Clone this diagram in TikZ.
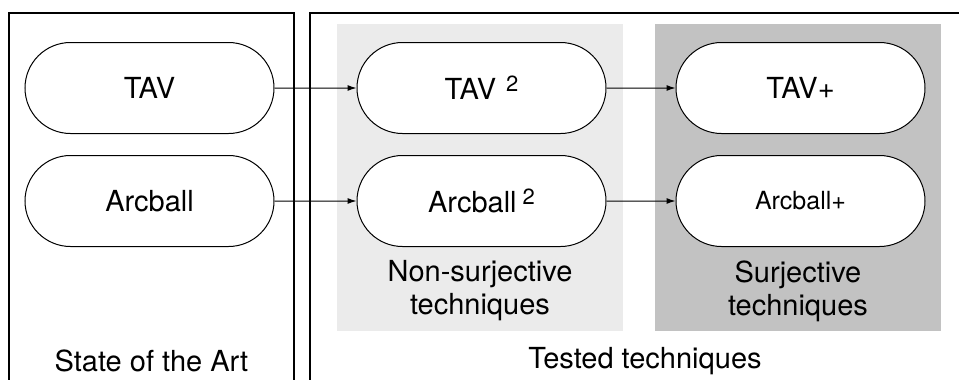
\documentclass[tikz,border=0pt]{standalone}
\usepackage{fontspec}
\setmainfont{TeX Gyre Heros}
\usetikzlibrary{positioning, arrows.meta, shapes.misc}

\definecolor{nonsurjgray}{gray}{0.92}
\definecolor{surjgray}{gray}{0.76}

\newcommand{\sqmark}[1]{\hspace{#1}\raisebox{4pt}{\fontsize{11}{12}\selectfont 2}}

\begin{document}
\begin{tikzpicture}[
    x=0.5pt, y=-0.5pt,
    >={Latex[length=4.5pt, width=3pt]},
    font=\fontsize{14.5}{16.5}\selectfont,
    frame/.style={draw, line width=0.8pt},
    pill/.style={rounded rectangle, draw, line width=0.5pt, fill=white,
        minimum width=124.5pt, minimum height=45.5pt, inner sep=0pt},
    grouplabel/.style={align=center},
    link/.style={->, line width=0.5pt}
]
    \useasboundingbox (0,0) rectangle (959,380);

    % --- OUTER FRAMES (open at the bottom) ---
    \draw[frame] (9,380) -- (9,13) -- (294,13) -- (294,380);
    \draw[frame] (310,380) -- (310,13) -- (959,13);

    % --- SHADED GROUPS ---
    \fill[nonsurjgray] (337,24) rectangle (623,331);
    \fill[surjgray] (655,24) rectangle (941,331);

    % --- TECHNIQUES ---
    \node[pill] (tav) at (149.5,88) {TAV};
    \node[pill, below=10.5pt of tav] (arcball) {Arcball};

    \node[pill, right=41pt of tav] (tav2) {TAV\sqmark{5pt}};
    \node[pill, right=41pt of arcball] (arcball2) {Arcball\sqmark{3pt}};

    \node[pill, right=34.5pt of tav2] (tavplus) {TAV+};
    \node[pill, right=34.5pt of arcball2, font=\fontsize{12.5}{14}\selectfont] (arcballplus) {Arcball+};

    % --- GROUP LABELS ---
    \node[grouplabel] (nonsurjlbl) at (480,291) {Non-surjective\\techniques};
    \node[grouplabel] (surjlbl) at (798,291) {Surjective\\techniques};
    \node (artlbl) at (151.5,361) {State of the Art};
    \node (testedlbl) at (645,361) {Tested techniques};

    % --- TRANSITIONS ---
    \draw[link] (tav) -- (tav2);
    \draw[link] (arcball) -- (arcball2);
    \draw[link] (tav2) -- (tavplus);
    \draw[link] (arcball2) -- (arcballplus);

\end{tikzpicture}
\end{document}
